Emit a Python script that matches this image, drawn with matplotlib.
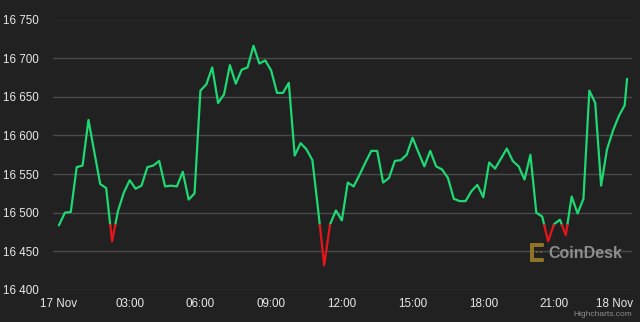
import numpy as np
import pandas as pd
import matplotlib
matplotlib.use("Agg")
from matplotlib import pyplot as plt
import matplotlib.dates as mdates
from matplotlib.patches import FancyBboxPatch
from matplotlib.transforms import ScaledTranslation

# BTC price, 15 minute samples from 17 Nov 00:00, plus the live last point
prices = [16484, 16500, 16501, 16559, 16561, 16620, 16578, 16537, 16532, 16463,
          16502, 16526, 16542, 16531, 16535, 16559, 16561, 16567, 16534, 16535,
          16534, 16553, 16517, 16525, 16658, 16666, 16688, 16642, 16653, 16691,
          16667, 16685, 16688, 16716, 16693, 16697, 16684, 16655, 16655, 16668,
          16574, 16590, 16582, 16568, 16502, 16432, 16485, 16503, 16490, 16539,
          16534, 16549, 16565, 16580, 16580, 16539, 16545, 16567, 16568, 16575,
          16597, 16578, 16560, 16580, 16560, 16556, 16545, 16518, 16515, 16515,
          16528, 16536, 16520, 16565, 16557, 16570, 16583, 16567, 16560, 16543,
          16575, 16500, 16495, 16463, 16485, 16491, 16471, 16521, 16499, 16518,
          16658, 16642, 16535, 16582, 16606, 16625, 16639, 16673]
times = list(pd.date_range("2022-11-17 00:00", periods=97, freq="15min")) + [pd.Timestamp("2022-11-18 00:06")]
yticks = [16400, 16450, 16500, 16550, 16600, 16650, 16700, 16750]

bg = "#212121"
green = "#1fd873"
red = "#e3161b"

x = mdates.date2num(times)
y = np.array(prices, dtype=float)
thr = y[0]  # below the opening price the line turns red

# insert the threshold crossings so both colours join up
xx, yy = [x[0]], [y[0]]
for i in range(1, len(x)):
    y0, y1 = y[i - 1], y[i]
    if (y0 - thr) * (y1 - thr) < 0:
        f = (thr - y0) / (y1 - y0)
        xx.append(x[i - 1] + f * (x[i] - x[i - 1]))
        yy.append(thr)
    xx.append(x[i])
    yy.append(y1)
xx = np.array(xx)
yy = np.array(yy)

fig = plt.figure(figsize=(6.4, 3.22), dpi=100, facecolor=bg)
ax = fig.add_axes([53 / 640, 32 / 322, 579 / 640, 270.5 / 322], facecolor=bg)

ax.plot(xx, np.where(yy >= thr, yy, np.nan), color=green, lw=1.6, solid_joinstyle="round", zorder=3)
ax.plot(xx, np.where(yy <= thr, yy, np.nan), color=red, lw=1.6, solid_joinstyle="round", zorder=3)

t0 = mdates.date2num(pd.Timestamp("2022-11-17 00:00"))
hour = 1 / 24
ax.set_xlim(t0 - 0.255 * hour, t0 + 24.31 * hour)
ax.set_ylim(16400, 16750)

ax.set_yticks(yticks)
ax.set_yticklabels([f"{v:,}".replace(",", " ") for v in yticks])
ax.grid(axis="y", color="#4a4a4a", lw=1)
ax.set_axisbelow(True)

xt = list(pd.date_range("2022-11-17 00:00", periods=9, freq="3h"))
ax.set_xticks(mdates.date2num(xt))
ax.set_xticklabels([t.strftime("%d %b").lstrip("0") if t.hour == 0 else t.strftime("%H:%M") for t in xt])

for s in ax.spines.values():
    s.set_visible(False)
ax.tick_params(axis="both", length=0, colors="#e8e8e8", labelsize=8.4)
ax.tick_params(axis="y", pad=10)
ax.tick_params(axis="x", pad=6)
for lab in ax.get_xticklabels() + ax.get_yticklabels():
    lab.set_family(["Liberation Sans", "DejaVu Sans"])

# last date label is pushed in to end at the plot edge
last = ax.get_xticklabels()[-1]
last.set_transform(last.get_transform() + ScaledTranslation(-10 / 100, 0, fig.dpi_scale_trans))

# CoinDesk watermark
fig.text(548 / 640, 1 - 253 / 322, "CoinDesk", color="#9a9a9a", fontsize=11.5, fontweight="bold",
         family=["Liberation Sans", "DejaVu Sans"], va="center", ha="left", alpha=0.9)
gold = "#8f7428"
for (px, py, w, h) in [(530, 243, 4, 19), (530, 243, 14, 4), (530, 258, 14, 4), (536, 251, 2, 2), (540, 251, 2, 2)]:
    fig.patches.append(FancyBboxPatch((px / 640, 1 - (py + h) / 322), w / 640, h / 322,
                                      boxstyle="round,pad=0,rounding_size=0.003", transform=fig.transFigure,
                                      facecolor=gold, edgecolor="none"))

fig.text(632 / 640, 1 - 314 / 322, "Highcharts.com", color="#8c8c8c", fontsize=6,
         family=["Liberation Sans", "DejaVu Sans"], ha="right", va="center")

fig.savefig("out.png", dpi=100, facecolor=bg)
